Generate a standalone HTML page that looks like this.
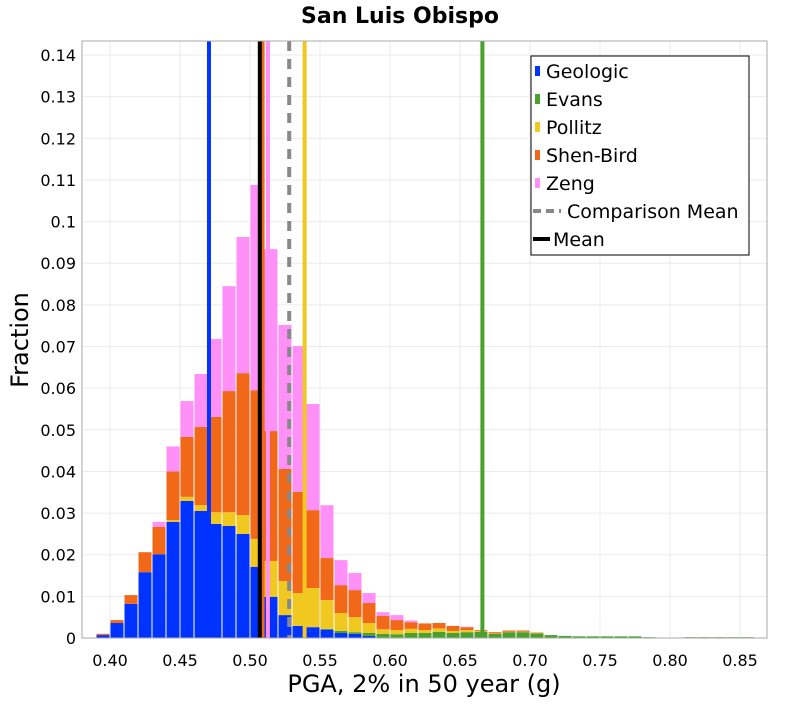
<!DOCTYPE html>
<html><head><meta charset="utf-8"><style>
body{margin:0;background:#fff}
svg text{font-family:"DejaVu Sans","Liberation Sans",sans-serif}
</style></head><body>
<svg id="chart" width="800" height="700" xmlns="http://www.w3.org/2000/svg">
<rect width="800" height="700" fill="#fff"/>
<text x="400" y="23" text-anchor="middle" font-size="22" font-weight="bold">San Luis Obispo</text>
<g id="grid"></g><g id="bars"></g><g id="lines"></g><g id="axes"></g>
<rect x="82" y="41" width="685" height="597" fill="none" stroke="#aaa" stroke-width="1"/>
<text x="424" y="692" text-anchor="middle" font-size="24">PGA, 2% in 50 year (g)</text>
<text transform="translate(28,340) rotate(-90)" text-anchor="middle" font-size="24">Fraction</text>
<g>
<rect x="531" y="56" width="218" height="199" fill="#fff" stroke="#000" stroke-width="1"/>
<g font-size="19">
<rect x="535" y="66" width="5" height="10" fill="#0033ff"/><text x="546" y="78">Geologic</text>
<rect x="535" y="94" width="5" height="10" fill="#4aa02c"/><text x="546" y="106">Evans</text>
<rect x="535" y="122" width="5" height="10" fill="#f0c820"/><text x="546" y="134">Pollitz</text>
<rect x="535" y="150" width="5" height="10" fill="#f06818"/><text x="546" y="162">Shen-Bird</text>
<rect x="535" y="178" width="5" height="10" fill="#ff90f8"/><text x="546" y="190">Zeng</text>
<line x1="533" y1="211" x2="561" y2="211" stroke="#888" stroke-width="4" stroke-dasharray="8,5"/><text x="567" y="218">Comparison Mean</text>
<line x1="533" y1="239" x2="550" y2="239" stroke="#000" stroke-width="4"/><text x="553" y="246">Mean</text>
</g></g>
</svg>
<script>
const binStarts=[0.39,0.40,0.41,0.42,0.43,0.44,0.45,0.46,0.47,0.48,0.49,0.50,0.51,0.52,0.53,0.54,0.55,0.56,0.57,0.58,0.59,0.60,0.61,0.62,0.63,0.64,0.65,0.66,0.67,0.68,0.69,0.70,0.71,0.72,0.73,0.74,0.75,0.76,0.77,0.78,0.79,0.80,0.81,0.82,0.83,0.84,0.85];
const geologic=[0.0007,0.0036,0.0082,0.0158,0.0201,0.0279,0.0329,0.0305,0.0274,0.0269,0.0250,0.0171,0.0099,0.0055,0.0029,0.0026,0.0020,0.0012,0.0010,0.0005,0,0,0,0,0,0,0,0,0,0,0,0,0,0,0,0,0,0,0,0,0,0,0,0,0,0,0];
const evans=[0,0,0,0,0,0,0,0,0,0,0,0,0,0,0,0,0.0002,0.0005,0.0004,0.0007,0.0010,0.0009,0.0012,0.0012,0.0015,0.0012,0.0014,0.0015,0.0010,0.0014,0.0014,0.0011,0.0007,0.0005,0.0004,0.0004,0.0004,0.0004,0.0004,0.0002,0.0001,0.0001,0.0002,0.0002,0.0002,0.0002,0.0002];
const pollitz=[0,0,0,0,0,0.0004,0.0010,0.0014,0.0028,0.0033,0.0045,0.0067,0.0086,0.0082,0.0079,0.0094,0.0069,0.0043,0.0036,0.0024,0.0011,0.0010,0.0010,0.0007,0.0008,0.0005,0.0005,0.0002,0.0001,0.0001,0.0001,0.0001,0,0,0,0,0,0,0,0,0,0,0,0,0,0,0];
const shenBird=[0.0003,0.0007,0.0021,0.0048,0.0066,0.0117,0.0144,0.0188,0.0229,0.0291,0.0341,0.0357,0.0312,0.0269,0.0243,0.0187,0.0101,0.0067,0.0065,0.0048,0.0032,0.0024,0.0016,0.0016,0.0013,0.0012,0.0007,0.0002,0.0003,0.0003,0.0003,0.0001,0,0,0,0,0,0,0,0,0,0,0,0,0,0,0];
const zeng=[0,0,0,0,0.0012,0.0060,0.0086,0.0127,0.0187,0.0252,0.0327,0.0493,0.0437,0.0346,0.0350,0.0255,0.0127,0.0060,0.0041,0.0024,0.0009,0.0012,0.0004,0,0,0,0.0001,0,0,0,0,0,0,0,0,0,0,0,0,0,0,0,0,0,0,0,0];
const seriesNames=["geologic","evans","pollitz","shen-bird","zeng"];
const seriesColors=["#0033ff","#4aa02c","#f0c820","#f06818","#ff90f8"];
const meanNames=["geologic-mean","shen-bird-mean","zeng-mean","comparison-mean","pollitz-mean","evans-mean","overall-mean"];
const meanValues=[0.4707,0.509,0.5128,0.528,0.539,0.666,0.507];
const xTicks=[0.40,0.45,0.50,0.55,0.60,0.65,0.70,0.75,0.80,0.85];
const yTicks=[0,0.01,0.02,0.03,0.04,0.05,0.06,0.07,0.08,0.09,0.1,0.11,0.12,0.13,0.14];
const yTickLabels=["0","0.01","0.02","0.03","0.04","0.05","0.06","0.07","0.08","0.09","0.1","0.11","0.12","0.13","0.14"];
const binWidth=0.01;
const X=v=>110+(v-0.40)*1400;
const Y=v=>638-v*4164;
const NS="http://www.w3.org/2000/svg";
function mk(t,a,p){const e=document.createElementNS(NS,t);for(const k in a)e.setAttribute(k,a[k]);p.appendChild(e);return e;}
const grid=document.getElementById('grid'),bars=document.getElementById('bars'),lines=document.getElementById('lines'),axes=document.getElementById('axes');
xTicks.forEach((t,i)=>{
 const g=mk('line',{x1:X(t),x2:X(t),y1:41,y2:638,stroke:'#ebebeb','stroke-width':1},grid);
 
 
 const l=mk('text',{x:X(t),y:666,'text-anchor':'middle','font-size':16},axes);
 l.textContent=t.toFixed(2);
 
 
});
yTicks.forEach((t,i)=>{
 const g=mk('line',{x1:82,x2:767,y1:Y(t),y2:Y(t),stroke:'#ebebeb','stroke-width':1},grid);
 
 
 const l=mk('text',{x:76,y:Y(t)+6,'text-anchor':'end','font-size':16},axes);
 l.textContent=yTickLabels[i];
 
 
});
const all=[geologic,evans,pollitz,shenBird,zeng];
binStarts.forEach((b,i)=>{
 let cum=0;
 all.forEach((s,k)=>{
  const v=s[i]; if(v<=0)return;
  const r=mk('rect',{x:X(b)+0.5,y:Y(cum+v),width:binWidth*1400-1,height:Y(cum)-Y(cum+v),fill:seriesColors[k]},bars);
  
  
  cum+=v;
 });
});
const meanColors=["#0033ff","#f06818","#ff90f8","#888","#f0c820","#4aa02c","#000"];
meanValues.forEach((m,i)=>{
 const a={x1:X(m),x2:X(m),y1:41,y2:638,stroke:meanColors[i],'stroke-width':4};
 if(meanNames[i]==='comparison-mean')a['stroke-dasharray']='10,8';
 const l=mk('line',a,lines);
 
 
});
</script>
</body></html>
